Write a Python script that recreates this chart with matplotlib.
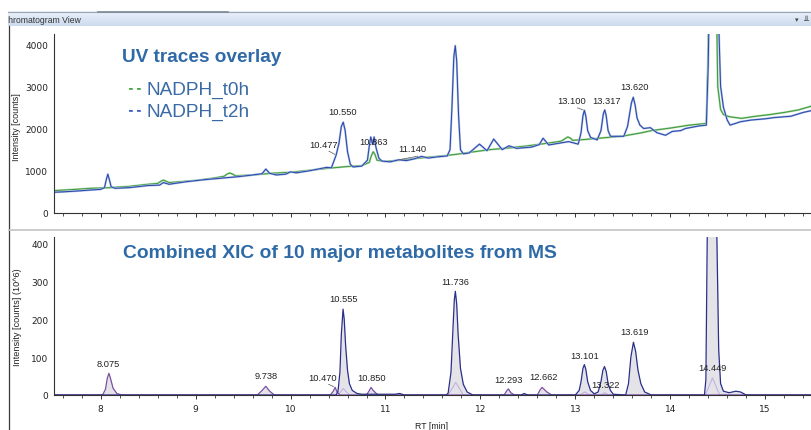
import numpy as np
import matplotlib.pyplot as plt
import matplotlib.patheffects as pe
from matplotlib.ticker import MultipleLocator
from matplotlib.patches import Rectangle
from matplotlib.colors import LinearSegmentedColormap

plt.rcParams['font.family'] = ['Liberation Sans', 'DejaVu Sans']

W, H = 812, 431

# UV trace, NADPH_t0h (RT [min], intensity [counts])
t0h_rt = [7.50, 7.70, 7.90, 8.10, 8.30, 8.50, 8.60, 8.63, 8.66, 8.69, 8.72, 9.00, 9.20, 9.30,
          9.33, 9.36, 9.39, 9.42, 9.60, 9.80, 10.00, 10.20, 10.40, 10.60, 10.75, 10.83, 10.85,
          10.87, 10.89, 10.91, 11.00, 11.20, 11.40, 11.60, 11.75, 11.90, 12.10, 12.30, 12.50,
          12.70, 12.85, 12.90, 12.92, 12.95, 12.97, 13.10, 13.30, 13.50, 13.70, 13.80, 14.00,
          14.20, 14.38, 14.40, 14.43, 14.48, 14.50, 14.53, 14.56, 14.62, 14.75, 14.90, 15.05,
          15.20, 15.35, 15.48]
t0h_int = [528, 555, 585, 600, 630, 680, 700, 745, 780, 750, 720, 770, 830, 870,
           920, 947, 920, 880, 900, 940, 965, 1010, 1060, 1100, 1120, 1200, 1350,
           1450, 1380, 1250, 1220, 1260, 1310, 1350, 1390, 1440, 1500, 1540, 1590,
           1650, 1700, 1770, 1800, 1770, 1720, 1740, 1780, 1820, 1900, 1950, 2010,
           2080, 2120, 4000, 9000, 6000, 3000, 2450, 2330, 2280, 2240, 2290, 2330,
           2380, 2440, 2525]

# UV trace, NADPH_t2h
t2h_rt = [7.50, 7.60, 7.75, 7.90, 8.00, 8.04, 8.06, 8.075, 8.09, 8.11, 8.15, 8.30, 8.50, 8.62,
          8.66, 8.72, 8.90, 9.10, 9.30, 9.45, 9.60, 9.70, 9.725, 9.74, 9.755, 9.78, 9.85,
          9.95, 10.00, 10.06, 10.20, 10.38, 10.43, 10.48, 10.51, 10.535, 10.555, 10.575,
          10.60, 10.63, 10.66, 10.75, 10.81, 10.83, 10.845, 10.865, 10.88, 10.90, 10.93,
          10.96, 11.05, 11.14, 11.22, 11.30, 11.38, 11.45, 11.55, 11.65, 11.68, 11.70,
          11.72, 11.735, 11.75, 11.77, 11.79, 11.82, 11.88, 11.99, 12.07, 12.14, 12.23,
          12.30, 12.38, 12.54, 12.62, 12.66, 12.72, 12.85, 12.93, 13.03, 13.06, 13.08,
          13.095, 13.11, 13.13, 13.16, 13.23, 13.27, 13.295, 13.31, 13.325, 13.345, 13.37,
          13.51, 13.55, 13.59, 13.61, 13.63, 13.65, 13.68, 13.72, 13.79, 13.86, 13.95,
          14.02, 14.11, 14.16, 14.30, 14.38, 14.40, 14.41, 14.45, 14.51, 14.53, 14.56,
          14.60, 14.63, 14.74, 14.85, 15.00, 15.10, 15.27, 15.40, 15.48]
t2h_int = [490, 500, 520, 545, 560, 600, 800, 920, 800, 620, 585, 600, 650, 660,
           720, 680, 740, 790, 830, 860, 900, 930, 1000, 1040, 1000, 940, 900,
           920, 975, 950, 1000, 1080, 1070, 1370, 1650, 2050, 2150, 1950,
           1450, 1150, 1090, 1110, 1250, 1600, 1800, 1620, 1800, 1550, 1300,
           1230, 1210, 1260, 1240, 1280, 1340, 1300, 1330, 1350, 1500, 2500,
           3700, 3960, 3600, 2300, 1500, 1400, 1420, 1630, 1475, 1750, 1500,
           1590, 1530, 1560, 1620, 1770, 1610, 1660, 1690, 1630, 1900, 2300,
           2430, 2300, 1950, 1790, 1730, 1950, 2350, 2440, 2300, 1950, 1815,
           1815, 2050, 2600, 2740, 2550, 2250, 2080, 2000, 2020, 1900, 1840,
           1930, 1950, 2000, 2060, 2080, 3500, 5000, 9000, 4500, 3000, 2500,
           2200, 2080, 2160, 2200, 2230, 2260, 2290, 2380, 2420]

# combined XIC (intensity in 10^6 counts)
xic_main_rt = [7.50, 10.48, 10.50, 10.52, 10.535, 10.553, 10.565, 10.58, 10.60, 10.62, 10.65,
               10.70, 10.75, 11.10, 11.15, 11.20, 11.64, 11.66, 11.69, 11.71, 11.725, 11.736,
               11.75, 11.765, 11.79, 11.82, 11.86, 11.92, 12.43, 12.46, 12.50, 13.00, 13.04,
               13.06, 13.08, 13.095, 13.11, 13.13, 13.16, 13.20, 13.24, 13.27, 13.29, 13.307,
               13.325, 13.345, 13.37, 13.40, 13.53, 13.56, 13.585, 13.612, 13.635, 13.66, 13.69,
               13.73, 13.80, 14.36, 14.375, 14.39, 14.44, 14.49, 14.51, 14.53, 14.56, 14.62,
               14.69, 14.74, 14.80, 15.24, 15.49]
xic_main_int = [0, 0, 10, 60, 160, 226, 200, 130, 65, 30, 12,
                4, 2, 2, 4, 0, 0, 5, 60, 170, 250, 273,
                240, 160, 70, 28, 8, 0, 0, 4, 0, 0, 12,
                35, 70, 80, 68, 35, 12, 3, 8, 35, 65, 75,
                62, 30, 12, 2, 0, 30, 100, 139, 115, 65, 30,
                8, 0, 0, 40, 430, 800, 430, 120, 30, 10, 6,
                10, 8, 0, 0, 0]

xic_minor_rt = [7.50, 8.02, 8.05, 8.07, 8.087, 8.105, 8.13, 8.17, 8.22, 9.65, 9.70, 9.739,
                9.78, 9.83, 10.42, 10.45, 10.47, 10.49, 10.52, 10.80, 10.83, 10.848, 10.87,
                10.92, 12.25, 12.28, 12.295, 12.32, 12.36, 12.60, 12.63, 12.65, 12.70, 12.75,
                15.49]
xic_minor_int = [0, 0, 15, 45, 57, 42, 18, 4, 0, 0, 12, 23,
                 10, 0, 0, 10, 20, 8, 0, 0, 12, 20, 12,
                 0, 0, 12, 16, 6, 0, 0, 14, 20, 8, 0,
                 0]

xic_inner_rt = [7.50, 10.50, 10.555, 10.62, 11.66, 11.74, 11.82, 13.05, 13.10, 13.15,
                13.27, 13.31, 13.35, 14.37, 14.445, 14.52, 15.49]
xic_inner_int = [0, 0, 17, 0, 0, 33, 0, 0, 8, 0, 0, 6, 0, 0, 45, 0, 0]

# peak labels: text, label centre (RT, intensity), leader target or None
uv_labels = [('10.477', 10.345, 1633, (10.48, 1370)),
             ('10.550', 10.553, 2391, None),
             ('10.863', 10.870, 1688, None),
             ('11.140', 11.280, 1515, (11.14, 1260)),
             ('13.100', 12.963, 2658, (13.095, 2430)),
             ('13.317', 13.325, 2658, None),
             ('13.620', 13.621, 2990, None)]
xic_labels = [('8.075', 8.084, 83, None),
              ('9.738', 9.739, 51, None),
              ('10.470', 10.342, 45, (10.47, 20)),
              ('10.555', 10.559, 255, None),
              ('10.850', 10.856, 45, None),
              ('11.736', 11.733, 299, None),
              ('12.293', 12.292, 42, None),
              ('12.662', 12.660, 48, None),
              ('13.101', 13.100, 105, None),
              ('13.322', 13.321, 27, None),
              ('13.619', 13.622, 167, None),
              ('14.449', 14.446, 73, None)]

fig = plt.figure(figsize=(W / 100, H / 100), dpi=100)

# window chrome, drawn in pixel coordinates
chrome = fig.add_axes([0, 0, 1, 1], zorder=0)
chrome.set_xlim(0, W)
chrome.set_ylim(H, 0)
chrome.axis('off')
grad = np.linspace(0, 1, 32).reshape(-1, 1)
bar_cmap = LinearSegmentedColormap.from_list('bar', ['#eaf1fa', '#cddbef'])
chrome.imshow(grad, extent=(8, W, 27, 12.7), cmap=bar_cmap, aspect='auto', zorder=1)
chrome.plot([8, W], [12.7, 12.7], color='#9aa6b4', lw=0.8, zorder=2)
chrome.plot([98, 228], [12.9, 12.9], color='#7f8a98', lw=1.2, zorder=2)
chrome.text(2.5, 20.5, 'Chromatogram View', fontsize=6.2, color='#333333', va='center', zorder=2)
chrome.add_patch(Rectangle((0, 10), 8, 20, facecolor='white', edgecolor='none', zorder=3))
chrome.text(797, 20.5, '\u25be', fontsize=5, color='#444444', va='center', ha='center',
            family='DejaVu Sans', zorder=2)
chrome.text(806, 20.5, '\u2568', fontsize=6, color='#444444', va='center', ha='center',
            family='DejaVu Sans', zorder=2)
chrome.plot([9, 9], [27, H], color='#3a3a3a', lw=0.9, zorder=2)
chrome.plot([9, W], [230.7, 230.7], color='#c4c4c4', lw=1.2, zorder=2)

xlim = (7.508, 15.493)


def style_axis(ax):
    ax.set_xlim(*xlim)
    for s in ('top', 'right'):
        ax.spines[s].set_visible(False)
    for s in ('left', 'bottom'):
        ax.spines[s].set_color('#333333')
        ax.spines[s].set_linewidth(0.8)
    ax.xaxis.set_major_locator(MultipleLocator(1))
    ax.xaxis.set_minor_locator(MultipleLocator(0.2))
    ax.tick_params(axis='x', which='major', length=3, width=0.7, color='#333333',
                   labelsize=6.5, pad=3.5, labelfontfamily='DejaVu Sans', labelcolor='#222222')
    ax.tick_params(axis='x', which='minor', length=1.8, width=0.6, color='#333333')
    ax.tick_params(axis='y', length=0, labelsize=6.5, pad=4,
                   labelfontfamily='DejaVu Sans', labelcolor='#222222')
    ax.patch.set_alpha(0)


# top: UV traces
ax1 = fig.add_axes([54 / W, 1 - 214 / H, 1 - 54 / W, (214 - 35) / H], zorder=2)
style_axis(ax1)
ax1.set_ylim(0, 4237)
ax1.set_yticks([0, 1000, 2000, 3000, 4000])
ax1.tick_params(axis='x', labelbottom=False)
ax1.plot(t0h_rt, t0h_int, color='#b4dcae', lw=1.5, solid_joinstyle='round')
ax1.plot(t0h_rt, t0h_int, color='#3f9a40', lw=0.75, solid_joinstyle='round')
ax1.plot(t2h_rt, t2h_int, color='#b0c2ea', lw=1.5, solid_joinstyle='round')
ax1.plot(t2h_rt, t2h_int, color='#2b48a8', lw=0.75, solid_joinstyle='round')
ax1.set_ylabel('Intensity [counts]', fontsize=6.5, color='#222222')

for txt, lx, ly, tgt in uv_labels:
    ax1.text(lx, ly, txt, fontsize=6.7, color='#222222', ha='center', va='center')
    if tgt is not None:
        ax1.annotate('', xy=tgt, xytext=(lx + 0.06, ly - 170),
                     arrowprops=dict(arrowstyle='-', color='#555555', lw=0.6,
                                     ls=(0, (1.2, 1)), shrinkA=0, shrinkB=1))

# bottom: combined XIC
ax2 = fig.add_axes([54 / W, 1 - 396 / H, 1 - 54 / W, (396 - 238) / H], zorder=2)
style_axis(ax2)
ax2.set_ylim(0, 416)
ax2.set_yticks([0, 100, 200, 300, 400])
ax2.fill_between(xic_main_rt, xic_main_int, color='#e4e4e8', lw=0)
ax2.fill_between(xic_minor_rt, xic_minor_int, color='#e4e4e8', lw=0)
ax2.plot(xic_inner_rt, xic_inner_int, color='#c3b1df', lw=0.8)
ax2.plot(xic_minor_rt, xic_minor_int, color='#7b4fa5', lw=0.9)
ax2.plot(xic_main_rt, xic_main_int, color='#2b2f8a', lw=0.9)
ax2.set_ylabel('Intensity [counts] (10^6)', fontsize=6.6, color='#222222')
ax2.set_xlabel('RT [min]', fontsize=6.3, color='#222222')

for txt, lx, ly, tgt in xic_labels:
    ax2.text(lx, ly, txt, fontsize=6.7, color='#222222', ha='center', va='center')
    if tgt is not None:
        ax2.annotate('', xy=tgt, xytext=(lx + 0.06, ly - 17),
                     arrowprops=dict(arrowstyle='-', color='#555555', lw=0.6,
                                     ls=(0, (1.2, 1)), shrinkA=0, shrinkB=1))

# axis label positions (pixel based)
ax1.yaxis.set_label_coords(16.3 / W, 1 - 127.5 / H, transform=fig.transFigure)
ax2.yaxis.set_label_coords(18.0 / W, 1 - 317.5 / H, transform=fig.transFigure)
ax2.xaxis.set_label_coords(431.7 / W, 1 - 427 / H, transform=fig.transFigure)
ax2.xaxis.label.set_va('center')
ax1.yaxis.label.set_va('center')
ax2.yaxis.label.set_va('center')

# overlay titles
title_c = '#2f6aa7'
fig.text(121.7 / W, 1 - 61.7 / H, 'UV traces overlay', fontsize=13.7, weight='bold',
         color=title_c, va='baseline', zorder=5)
for yb, dash_c, name in [(95, '#49a84a', 'NADPH_t0h'), (117, '#3a5fbf', 'NADPH_t2h')]:
    fig.text(128 / W, 1 - (yb - 1.5) / H, '- -', fontsize=10, color=dash_c, va='baseline',
             zorder=5, path_effects=[pe.withStroke(linewidth=0.5, foreground=dash_c)])
    fig.text(146.7 / W, 1 - yb / H, name, fontsize=13.7, color='#3a6aa6', va='baseline', zorder=5)
fig.text(123.3 / W, 1 - 258.3 / H, 'Combined XIC of 10 major metabolites from MS', fontsize=13.9,
         weight='bold', color=title_c, va='baseline', zorder=5)

fig.savefig('out.png', dpi=100)
